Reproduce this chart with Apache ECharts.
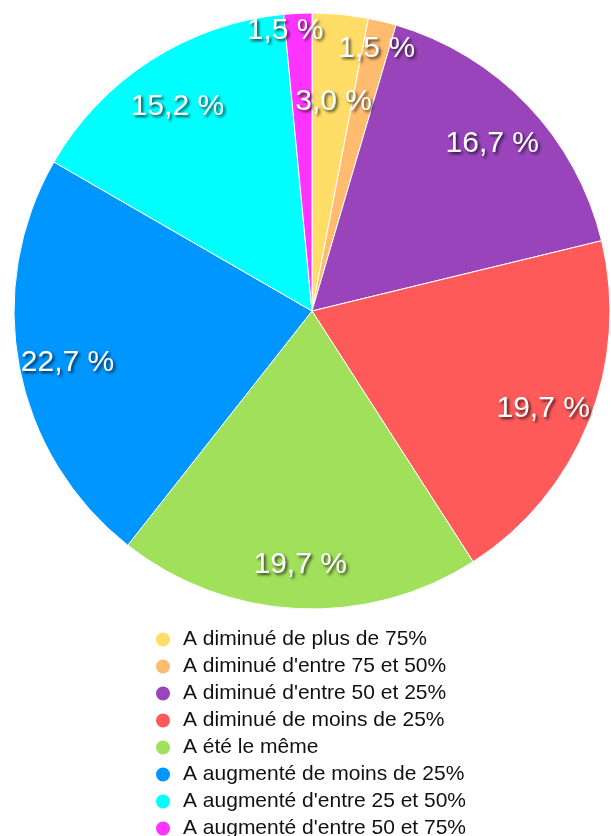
<!DOCTYPE html>
<html>
<head>
<meta charset="utf-8">
<script src="https://cdn.jsdelivr.net/npm/echarts@6/dist/echarts.min.js"></script>
<style>
  html, body { margin: 0; padding: 0; background: #fff; overflow: hidden; }
  #chart { width: 611px; height: 860px; }
</style>
</head>
<body>
<div id="chart"></div>
<script>
// answers per category (out of 66)
const categories = [
  'A diminué de plus de 75%',
  "A diminué d'entre 75 et 50%",
  "A diminué d'entre 50 et 25%",
  'A diminué de moins de 25%',
  'A été le même',
  'A augmenté de moins de 25%',
  "A augmenté d'entre 25 et 50%",
  "A augmenté d'entre 50 et 75%"
];
const counts = [2, 1, 11, 13, 13, 15, 10, 1];
const colors = ['#ffdd66', '#ffbb6e', '#9944bb', '#ff5a5a', '#a0e05a', '#0096ff', '#00ffff', '#ff33ff'];

const total = counts.reduce((a, b) => a + b, 0);
const pieData = categories.map((name, i) => ({ name: name, value: counts[i] }));

// small slices get their labels nudged like in the original
const nudge = { 0: [-2, 34], 1: [6, -25], 7: [-15, -37] };

let chart = echarts.init(document.getElementById('chart'));
chart.setOption({
  animation: false,
  color: colors,
  legend: {
    orient: 'vertical',
    left: 154,
    top: 629,
    padding: 0,
    icon: 'circle',
    itemWidth: 16,
    itemHeight: 16,
    itemGap: 6,
    selectedMode: false,
    data: categories.map((name, i) => ({ name: name, itemStyle: { color: colors[i] } })),
    textStyle: {
      fontFamily: 'Liberation Sans, Arial, sans-serif',
      fontSize: 21,
      lineHeight: 20,
      color: '#111',
      padding: [0, 0, 0, 7]
    }
  },
  series: [
    {
      type: 'pie',
      center: [312, 311],
      radius: 298,
      startAngle: 90,
      clockwise: true,
      silent: true,
      itemStyle: { borderColor: '#fff', borderWidth: 1 },
      label: { show: false },
      labelLine: { show: false },
      emphasis: { disabled: true },
      data: pieData
    },
    {
      // label carrier ring, invisible
      type: 'pie',
      center: [312, 311],
      radius: [194, 298],
      startAngle: 90,
      clockwise: true,
      silent: true,
      legendHoverLink: false,
      itemStyle: { color: 'transparent', borderWidth: 0 },
      emphasis: { disabled: true },
      labelLine: { show: false },
      label: {
        show: true,
        position: 'inside',
        fontFamily: 'Liberation Sans, Arial, sans-serif',
        fontSize: 30,
        color: '#fff',
        textShadowColor: 'rgba(0,0,0,0.7)',
        textShadowBlur: 3,
        textShadowOffsetX: 2,
        textShadowOffsetY: 2,
        formatter: p => (p.value / total * 100).toFixed(1).replace('.', ',') + ' %'
      },
      labelLayout: p => {
        const n = nudge[p.dataIndex] || [0, 0];
        return { dx: n[0], dy: n[1] + 5 };
      },
      data: pieData
    }
  ]
});
</script>
</body>
</html>
